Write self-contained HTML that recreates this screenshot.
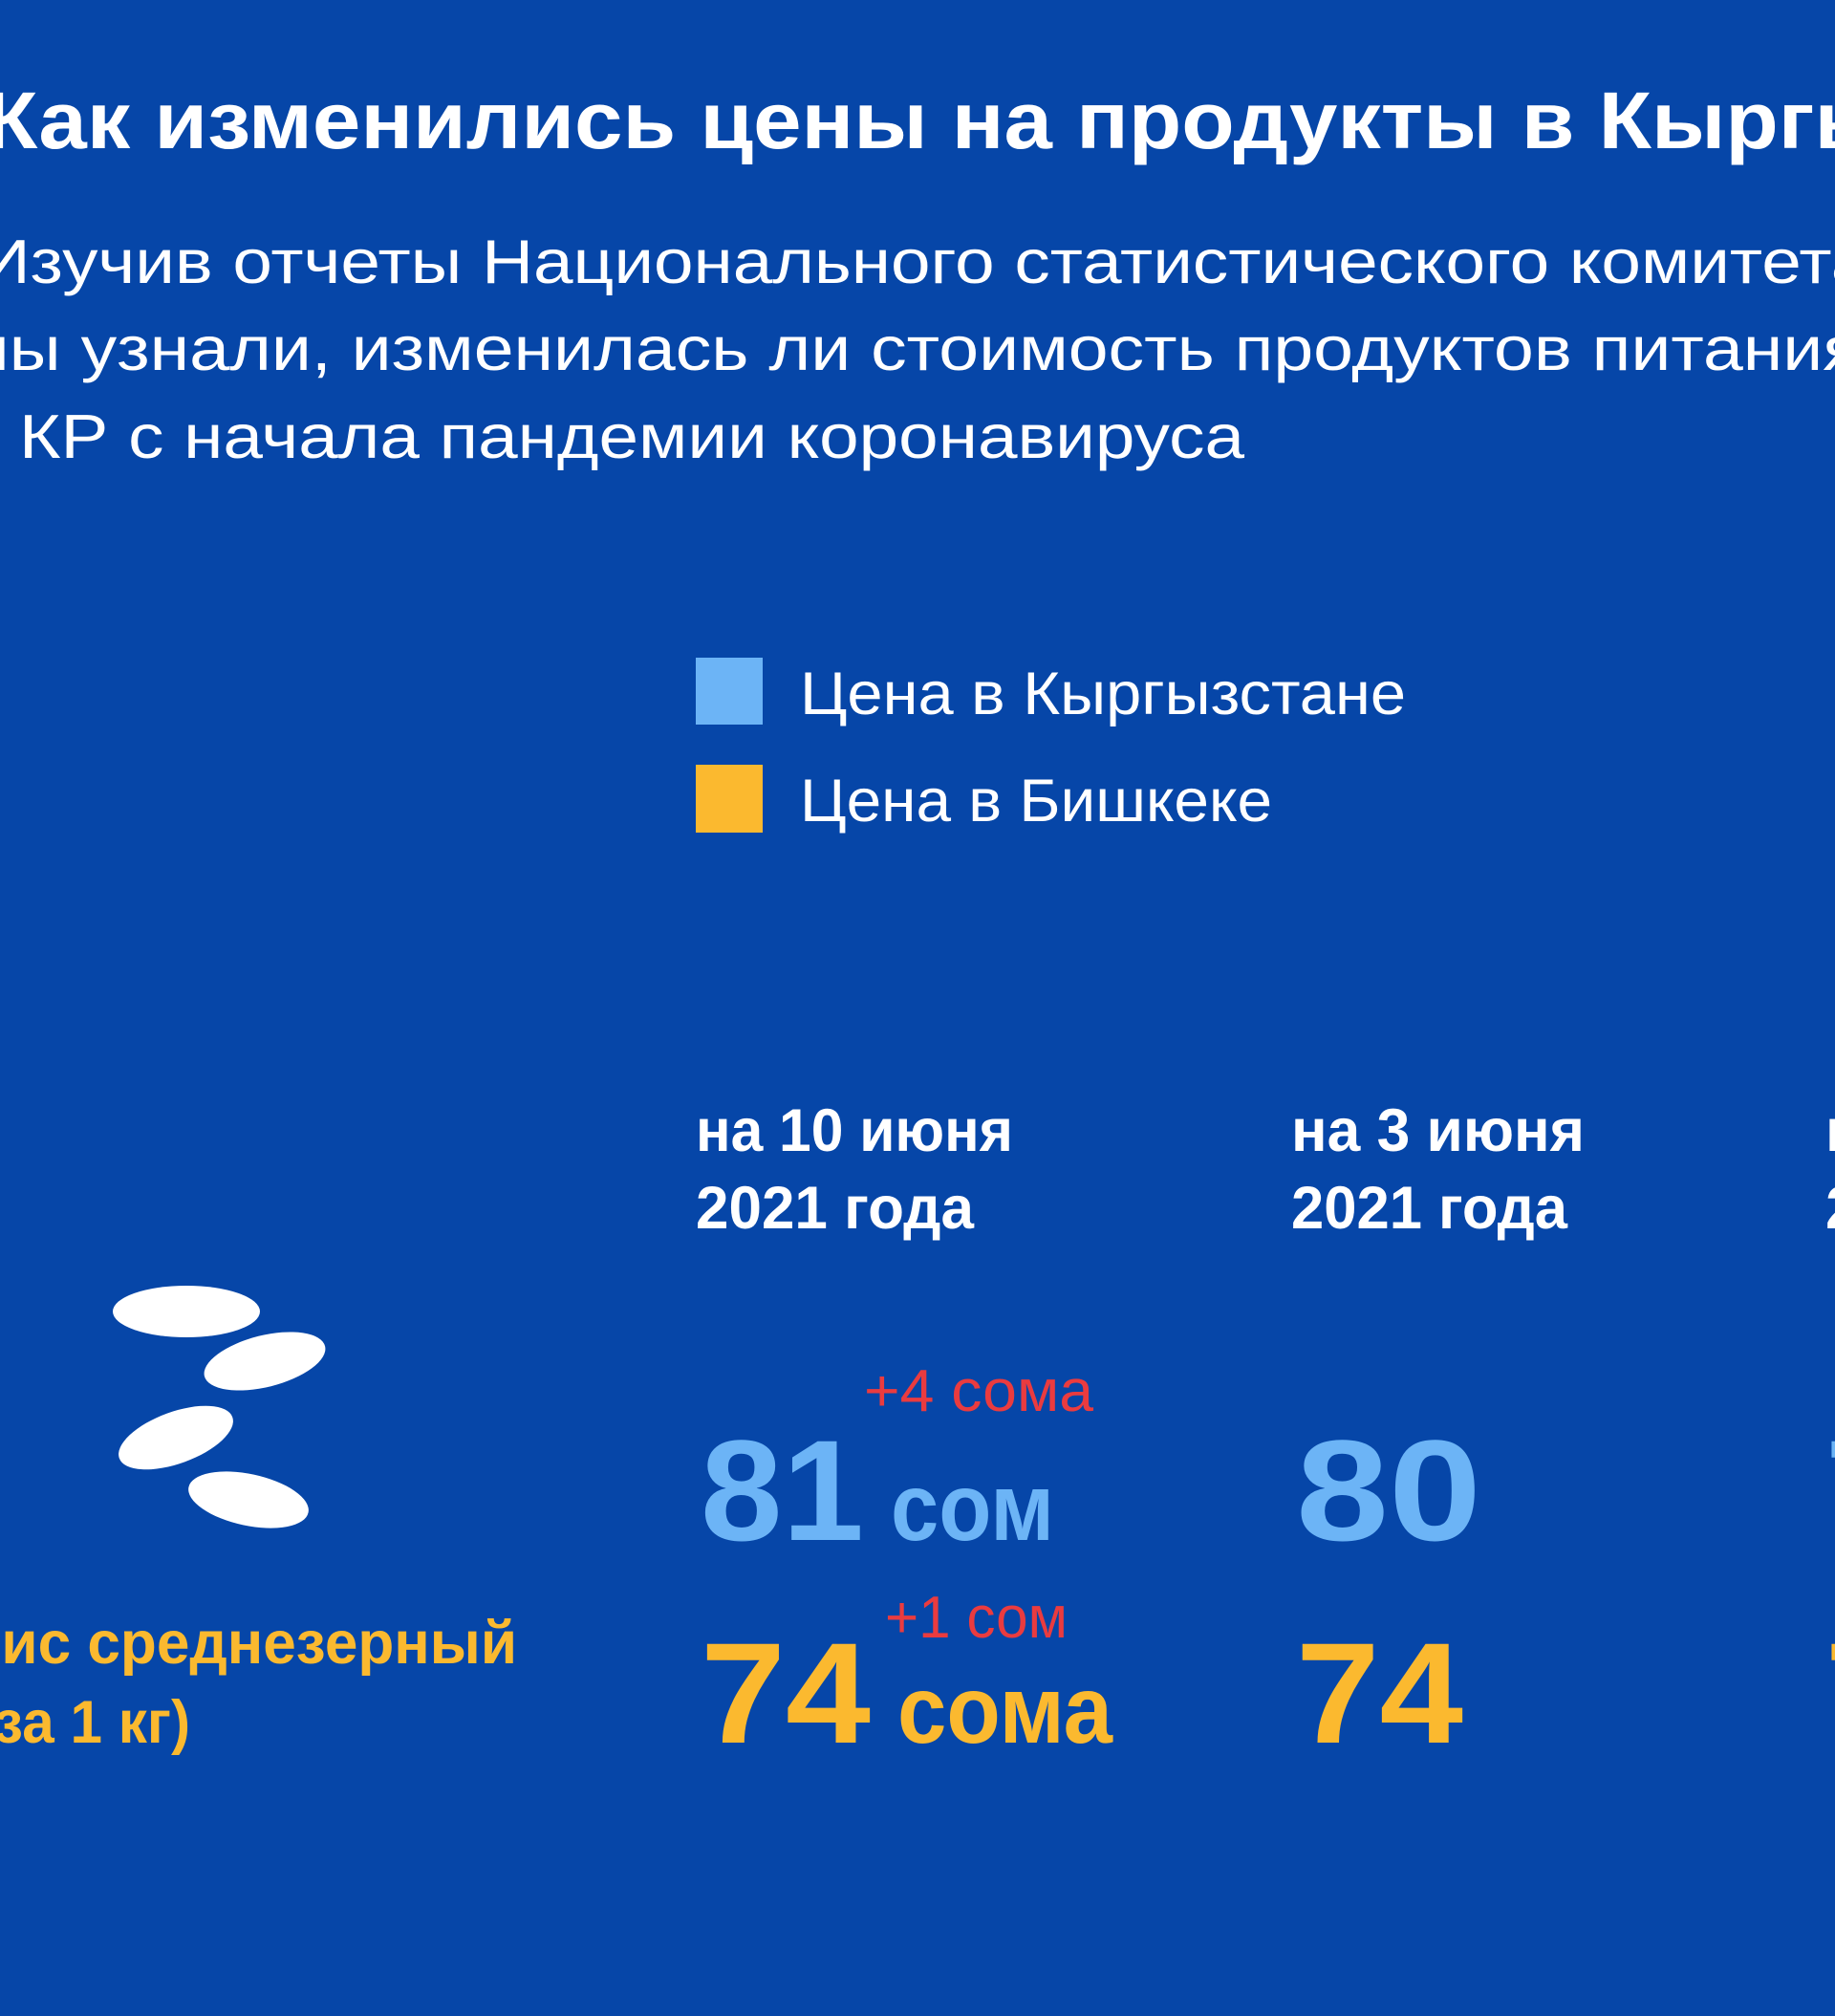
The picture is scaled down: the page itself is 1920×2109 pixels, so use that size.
<!DOCTYPE html>
<html><head><meta charset="utf-8"><style>
html,body{margin:0;padding:0;background:#0646a8;}
svg{display:block}
text{font-family:"Liberation Sans",sans-serif;}
</style></head><body>
<svg width="1920" height="2109" viewBox="0 0 1920 2109" xmlns="http://www.w3.org/2000/svg">
<rect width="1920" height="2109" fill="#0646a8"/>
<text x="-16" y="155" font-size="84" font-weight="bold" fill="#fff" textLength="2285" lengthAdjust="spacingAndGlyphs">Как изменились цены на продукты в Кыргызстане</text>
<g font-size="65" fill="#fff">
<text x="-22" y="296" textLength="2000" lengthAdjust="spacingAndGlyphs">Изучив отчеты Национального статистического комитета,</text>
<text x="-42" y="387" textLength="1990" lengthAdjust="spacingAndGlyphs">мы узнали, изменилась ли стоимость продуктов питания</text>
<text x="20" y="479" textLength="1282" lengthAdjust="spacingAndGlyphs">КР с начала пандемии коронавируса</text>
</g>
<rect x="728" y="688" width="70" height="70" fill="#6cb4f6"/>
<rect x="728" y="800" width="70" height="71" fill="#fbb92f"/>
<text x="837" y="747" font-size="63" fill="#fff" textLength="634" lengthAdjust="spacingAndGlyphs">Цена в Кыргызстане</text>
<text x="837" y="859" font-size="63" fill="#fff" textLength="494" lengthAdjust="spacingAndGlyphs">Цена в Бишкеке</text>
<g font-size="63" font-weight="bold" fill="#fff">
<text x="728" y="1204" textLength="332" lengthAdjust="spacingAndGlyphs">на 10 июня</text>
<text x="728" y="1285" textLength="291" lengthAdjust="spacingAndGlyphs">2021 года</text>
<text x="1351" y="1204" textLength="307" lengthAdjust="spacingAndGlyphs">на 3 июня</text>
<text x="1351" y="1285" textLength="289" lengthAdjust="spacingAndGlyphs">2021 года</text>
<text x="1910" y="1204">на</text>
<text x="1910" y="1285">2021</text>
</g>
<g fill="#fff">
<ellipse cx="195" cy="1372" rx="77" ry="27"/>
<ellipse cx="277" cy="1424" rx="65" ry="27" transform="rotate(-14 277 1424)"/>
<ellipse cx="184" cy="1504" rx="63" ry="27" transform="rotate(-20 184 1504)"/>
<ellipse cx="260" cy="1569" rx="64" ry="27" transform="rotate(12 260 1569)"/>
</g>
<text x="904" y="1476" font-size="62" fill="#ea3b3f" textLength="240" lengthAdjust="spacingAndGlyphs">+4 сома</text>
<text x="926" y="1713" font-size="62" fill="#ea3b3f" textLength="191" lengthAdjust="spacingAndGlyphs">+1 сом</text>
<g font-weight="bold" fill="#6cb4f6">
<text x="733" y="1611" font-size="150" textLength="171" lengthAdjust="spacingAndGlyphs">81</text>
<text x="932" y="1611" font-size="100" textLength="171" lengthAdjust="spacingAndGlyphs">сом</text>
<text x="1356" y="1611" font-size="150" textLength="194" lengthAdjust="spacingAndGlyphs">80</text>
<text x="1910" y="1611" font-size="150">7</text>
</g>
<g font-weight="bold" fill="#fbb92f">
<text x="733" y="1823" font-size="150" textLength="178" lengthAdjust="spacingAndGlyphs">74</text>
<text x="939" y="1823" font-size="100" textLength="225" lengthAdjust="spacingAndGlyphs">сома</text>
<text x="1356" y="1823" font-size="150" textLength="175" lengthAdjust="spacingAndGlyphs">74</text>
<text x="1910" y="1823" font-size="150">7</text>
<text x="-40" y="1740" font-size="63" textLength="581" lengthAdjust="spacingAndGlyphs">Рис среднезерный</text>
<text x="-26" y="1823" font-size="63" textLength="225" lengthAdjust="spacingAndGlyphs">(за 1 кг)</text>
</g>
</svg>
</body></html>
